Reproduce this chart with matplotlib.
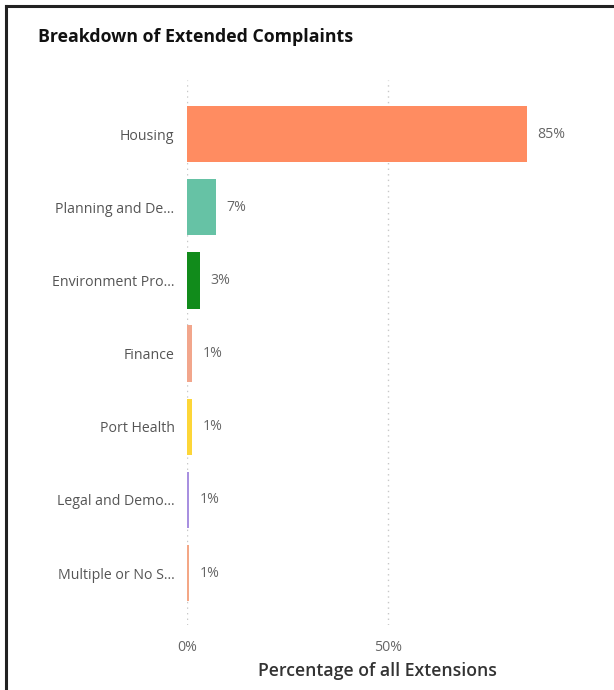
import matplotlib
matplotlib.use("Agg")
import matplotlib.pyplot as plt
from matplotlib.lines import Line2D

plt.rcParams['font.family'] = ['Open Sans', 'DejaVu Sans']

# data
categories = ['Housing', 'Planning and De...', 'Environment Pro...', 'Finance',
              'Port Health', 'Legal and Demo...', 'Multiple or No S...']
values = [84.6, 7.2, 3.3, 1.3, 1.3, 0.6, 0.5]
value_labels = ['85%', '7%', '3%', '1%', '1%', '1%', '1%']
colors = ['#FF8C61', '#66C2A5', '#118B1B', '#F2A68C', '#FDD638', '#A890E0', '#F4A786']
x_ticks = [0, 50]
x_tick_labels = ['0%', '50%']

fig = plt.figure(figsize=(6.14, 6.9), dpi=100)
ax = fig.add_axes([0.3046, 0.0942, 0.5537, 0.790])

y = list(range(len(categories)))
ax.barh(y, values, height=0.77, color=colors, zorder=2)
for yi, v, lab in zip(y, values, value_labels):
    ax.text(v + 2.6, yi, lab, va='center', ha='left', fontsize=10.2, color='#666666')

ax.set_xlim(0, 84.6)
ax.set_ylim(6.71, -0.74)
ax.set_yticks(y)
ax.set_yticklabels(categories, fontsize=10.2, color='#555555')
ax.set_xticks(x_ticks)
ax.set_xticklabels(x_tick_labels, fontsize=10.2, color='#666666')
ax.tick_params(axis='both', length=0)
ax.tick_params(axis='y', pad=9)
ax.tick_params(axis='x', pad=11)
ax.grid(axis='x', linestyle=(0, (1, 3)), color='#c8c8c8', linewidth=1, zorder=0)
for s in ax.spines.values():
    s.set_visible(False)

ax.set_xlabel('Percentage of all Extensions', fontsize=12.7, color='#333333',
              fontweight='semibold', labelpad=6)
ax.xaxis.set_label_coords(0.56, -0.068)

fig.text(38 / 614, 1 - 37 / 690, 'Breakdown of Extended Complaints',
         fontsize=12.8, fontweight='bold', color='#111111', va='center', ha='left')

# frame edges (only top and left visible in the reference)
fig.add_artist(Line2D([6 / 614, 6 / 614], [0, 1 - 6 / 690], color='#222222', linewidth=2.2))
fig.add_artist(Line2D([6 / 614, 1], [1 - 6 / 690, 1 - 6 / 690], color='#222222', linewidth=2.2))

fig.savefig('out.png', dpi=100)
